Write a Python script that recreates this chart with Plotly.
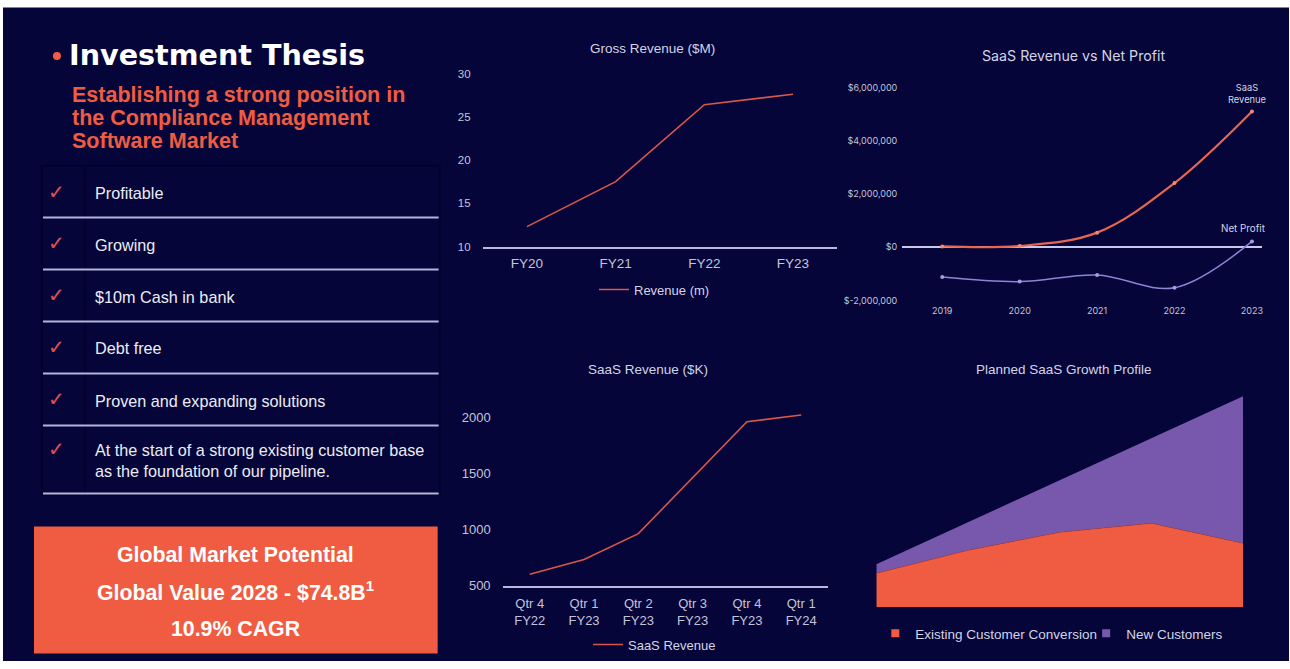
import plotly.graph_objects as go

# ---------------- data ----------------
gross_years = ["FY20", "FY21", "FY22", "FY23"]
gross_revenue = [12.3, 17.5, 26.4, 27.6]

np_years = ["2019", "2020", "2021", "2022", "2023"]
saas_revenue_annual = [30000, 50000, 550000, 2410000, 5100000]
net_profit = [-1120000, -1290000, -1040000, -1520000, 220000]

quarters = ["Qtr 4<br>FY22", "Qtr 1<br>FY23", "Qtr 2<br>FY23", "Qtr 3<br>FY23", "Qtr 4<br>FY23", "Qtr 1<br>FY24"]
saas_quarterly = [600, 732, 962, 1460, 1958, 2018]

growth_periods = ["P1", "P2", "P3", "P4", "P5"]
existing_conv = [34, 57, 75, 84, 64]
new_customers = [9, 28, 52, 85, 147]

checklist = [
    "Profitable",
    "Growing",
    "$10m Cash in bank",
    "Debt free",
    "Proven and expanding solutions",
    "At the start of a strong existing customer base<br>as the foundation of our pipeline.",
]

# ---------------- style ----------------
W, H = 1290, 669
BG = "#05053a"
ORANGE = "#f05c42"
PURPLE = "#7858ac"
LINE_RED = "#d9574a"
LAV = "#8c84d4"
AXIS = "#b8b8e0"
TXT = "#d4d4e4"
TICK = "#c4c4d8"
FONT = "Liberation Sans, Arial, sans-serif"
FONT2 = "Inter, sans-serif"

# observed vertical mapping of the rendered page: rendered = OFF + K * layout
OFF, K = 5.5, 0.979


def fx(px):
    return px / W


def fy(py):
    return 1 - ((py - OFF) / K) / H


fig = go.Figure()

# Chart 1: Gross revenue
fig.add_trace(go.Scatter(x=list(range(len(gross_years))), y=gross_revenue, mode="lines",
                         line=dict(color=LINE_RED, width=1.6), name="Revenue (m)",
                         xaxis="x", yaxis="y", legend="legend"))

# Chart 2: SaaS revenue vs net profit
fig.add_trace(go.Scatter(x=list(range(len(np_years))), y=saas_revenue_annual, mode="lines+markers",
                         line=dict(color="#e8654f", width=2.2, shape="spline"),
                         marker=dict(size=4, color="#f08a70"), name="SaaS Revenue",
                         xaxis="x2", yaxis="y2", showlegend=False))
fig.add_trace(go.Scatter(x=list(range(len(np_years))), y=net_profit, mode="lines+markers",
                         line=dict(color=LAV, width=1.5, shape="spline"),
                         marker=dict(size=4, color="#a49ce0"), name="Net Profit",
                         xaxis="x2", yaxis="y2", showlegend=False))

# Chart 3: SaaS quarterly revenue
fig.add_trace(go.Scatter(x=list(range(len(quarters))), y=saas_quarterly, mode="lines",
                         line=dict(color=LINE_RED, width=1.6), name="SaaS Revenue",
                         xaxis="x3", yaxis="y3", legend="legend2"))

# Chart 4: Planned growth (stacked area)
fig.add_trace(go.Scatter(x=list(range(len(growth_periods))), y=existing_conv, mode="lines",
                         stackgroup="one", line=dict(width=0.6, color="#b84434"), fillcolor=ORANGE,
                         name="Existing Customer Conversion", xaxis="x4", yaxis="y4", showlegend=False))
fig.add_trace(go.Scatter(x=list(range(len(growth_periods))), y=new_customers, mode="lines",
                         stackgroup="one", line=dict(width=0), fillcolor=PURPLE,
                         name="New Customers", xaxis="x4", yaxis="y4", showlegend=False))
fig.add_trace(go.Scatter(x=[None], y=[None], mode="markers", marker=dict(symbol="square", size=8, color=ORANGE),
                         name="Existing Customer Conversion", xaxis="x4", yaxis="y4", legend="legend3"))
fig.add_trace(go.Scatter(x=[None], y=[None], mode="markers", marker=dict(symbol="square", size=8, color=PURPLE),
                         name="New Customers", xaxis="x4", yaxis="y4", legend="legend4"))

layout = dict(
    width=W, height=H,
    margin=dict(l=0, r=0, t=0, b=0),
    paper_bgcolor="white",
    plot_bgcolor="rgba(0,0,0,0)",
    font=dict(family=FONT, color=TXT),
    # chart 1
    xaxis=dict(domain=[fx(483), fx(838)], range=[-0.5, 3.5], tickmode="array",
               tickvals=list(range(len(gross_years))), ticktext=gross_years,
               showline=True, linecolor=AXIS, linewidth=1.5, showgrid=False, zeroline=False,
               ticks="", tickfont=dict(family=FONT, size=13.5, color=TICK), ticklabelstandoff=4,
               fixedrange=True),
    yaxis=dict(domain=[fy(246), fy(73)], range=[10, 30], tickvals=[10, 15, 20, 25, 30],
               showgrid=False, zeroline=False, showline=False, ticks="",
               tickfont=dict(family=FONT, size=11.5, color=TICK), ticklabelstandoff=11, fixedrange=True),
    # chart 2
    xaxis2=dict(domain=[fx(903), fx(1263)], range=[-0.516, 4.13], tickmode="array",
                tickvals=list(range(len(np_years))), ticktext=np_years, anchor="y2",
                showline=False, showgrid=False, zeroline=False, ticks="",
                tickfont=dict(family=FONT2, size=9, color=TICK), ticklabelstandoff=3,
                fixedrange=True),
    yaxis2=dict(domain=[fy(300), fy(87)], range=[-2000000, 6000000], anchor="x2",
                tickvals=[-2000000, 0, 2000000, 4000000, 6000000],
                ticktext=["$-2,000,000", "$0", "$2,000,000", "$4,000,000", "$6,000,000"],
                showgrid=False, zeroline=True, zerolinecolor="#c8c8ec", zerolinewidth=1.5,
                showline=False, ticks="", tickfont=dict(family=FONT2, size=9, color=TICK),
                ticklabelstandoff=4, fixedrange=True),
    # chart 3
    xaxis3=dict(domain=[fx(503), fx(829)], range=[-0.5, 5.5], tickmode="array",
                tickvals=list(range(len(quarters))), ticktext=quarters, anchor="y3",
                showline=True, linecolor=AXIS, linewidth=1.5, showgrid=False, zeroline=False,
                ticks="", tickfont=dict(family=FONT, size=13, color=TICK), ticklabelstandoff=5,
                fixedrange=True),
    yaxis3=dict(domain=[fy(585), fy(394)], range=[500, 2200], anchor="x3",
                tickvals=[500, 1000, 1500, 2000], showgrid=False, zeroline=False, showline=False,
                ticks="", tickfont=dict(family=FONT, size=13, color=TICK), ticklabelstandoff=11,
                fixedrange=True),
    # chart 4
    xaxis4=dict(domain=[fx(877), fx(1244)], range=[0, 4], anchor="y4", visible=False, fixedrange=True),
    yaxis4=dict(domain=[fy(606.7), fy(386.7)], range=[0, 220], anchor="x4", visible=False, fixedrange=True),
    legend=dict(x=fx(655), y=fy(289), xanchor="center", yanchor="middle", orientation="h",
                bgcolor="rgba(0,0,0,0)", font=dict(family=FONT, size=13, color=TXT), itemwidth=30),
    legend2=dict(x=fx(655), y=fy(644), xanchor="center", yanchor="middle", orientation="h",
                 bgcolor="rgba(0,0,0,0)", font=dict(family=FONT, size=13, color=TXT), itemwidth=30),
    legend3=dict(x=fx(876), y=fy(633), xanchor="left", yanchor="middle", orientation="h",
                 bgcolor="rgba(0,0,0,0)", font=dict(family=FONT, size=13.5, color=TXT), itemwidth=30),
    legend4=dict(x=fx(1087), y=fy(633), xanchor="left", yanchor="middle", orientation="h",
                 bgcolor="rgba(0,0,0,0)", font=dict(family=FONT, size=13.5, color=TXT), itemwidth=30),
    showlegend=True,
)
fig.update_layout(**layout)

shapes = []
# slide background
shapes.append(dict(type="rect", xref="paper", yref="paper", x0=fx(3), x1=1, y0=0, y1=fy(7),
                   fillcolor=BG, line=dict(width=0), layer="below"))
# checklist panel
shapes.append(dict(type="rect", xref="paper", yref="paper", x0=fx(42), x1=fx(440), y0=fy(494), y1=fy(165),
                   fillcolor="rgba(0,0,0,0)", line=dict(color="#020226", width=1.5), layer="below"))
shapes.append(dict(type="line", xref="paper", yref="paper", x0=fx(85), x1=fx(85), y0=fy(492), y1=fy(166),
                   line=dict(color="#020226", width=1), layer="below"))
for py in [217, 269, 321, 373, 425, 493]:
    shapes.append(dict(type="line", xref="paper", yref="paper", x0=fx(43), x1=fx(439), y0=fy(py), y1=fy(py),
                       line=dict(color="#b4b4dc", width=2), layer="above"))
# title bullet
shapes.append(dict(type="circle", xref="paper", yref="paper", x0=fx(53), x1=fx(61), y0=fy(59.5), y1=fy(51.5),
                   fillcolor=ORANGE, line=dict(width=0)))
# market box
shapes.append(dict(type="rect", xref="paper", yref="paper", x0=fx(34), x1=fx(438), y0=fy(653), y1=fy(526),
                   fillcolor=ORANGE, line=dict(width=0), layer="below"))
fig.update_layout(shapes=shapes)

ann = []


def add_text(px, py, text, size, color, bold=False, xanchor="left", family=FONT):
    ann.append(dict(xref="paper", yref="paper", x=fx(px), y=fy(py), text=("<b>%s</b>" % text) if bold else text,
                    showarrow=False, xanchor=xanchor, yanchor="middle",
                    align=xanchor if xanchor != "center" else "center",
                    font=dict(family=family, size=size, color=color)))


add_text(67, 54, "Investment Thesis", 28.6, "white", bold=True, family="DejaVu Sans, sans-serif")
add_text(70, 94, "Establishing a strong position in", 21.5, ORANGE, bold=True)
add_text(70, 117, "the Compliance Management", 21.5, ORANGE, bold=True)
add_text(70, 140, "Software Market", 21.5, ORANGE, bold=True)

check_y = [191, 242, 294, 346, 398, 448]
text_y = [192, 244, 296, 347, 400, 460]
for cy, ty, item in zip(check_y, text_y, checklist):
    add_text(46, cy, "✓", 20, "#e05050", family="DejaVu Sans, sans-serif")
    ann.append(dict(xref="paper", yref="paper", x=fx(93), y=fy(ty), text=item, showarrow=False,
                    xanchor="left", yanchor="middle", align="left",
                    font=dict(family=FONT, size=16.2, color="#ececf4")))

add_text(236, 554, "Global Market Potential", 21.3, "white", bold=True, xanchor="center")
add_text(236, 591, "Global Value 2028 - $74.8B<sup>1</sup>", 21.3, "white", bold=True, xanchor="center")
add_text(236, 628, "10.9% CAGR", 21.3, "white", bold=True, xanchor="center")

# chart titles
add_text(653, 48, "Gross Revenue ($M)", 13.5, TXT, xanchor="center")
add_text(1074, 55, "SaaS Revenue vs Net Profit", 14.2, TXT, xanchor="center", family=FONT2)
add_text(649, 369, "SaaS Revenue ($K)", 13.5, TXT, xanchor="center")
add_text(1065, 369, "Planned SaaS Growth Profile", 13.5, TXT, xanchor="center")

# series labels on chart 2
ann.append(dict(xref="paper", yref="paper", x=fx(1248), y=fy(93), text="SaaS<br>Revenue", showarrow=False,
                xanchor="center", yanchor="middle", align="center",
                font=dict(family=FONT2, size=9.3, color=TXT)))
ann.append(dict(xref="paper", yref="paper", x=fx(1244), y=fy(228), text="Net Profit", showarrow=False,
                xanchor="center", yanchor="middle", font=dict(family=FONT2, size=9.8, color=TXT)))

fig.update_layout(annotations=ann)

page_bg = ("document.documentElement.style.background="
           "'linear-gradient(to bottom, #ffffff 0px, #ffffff 6px, %s 6px)';"
           "document.body.style.background='transparent';" % BG)
fig.write_html("out.html", post_script=page_bg)
